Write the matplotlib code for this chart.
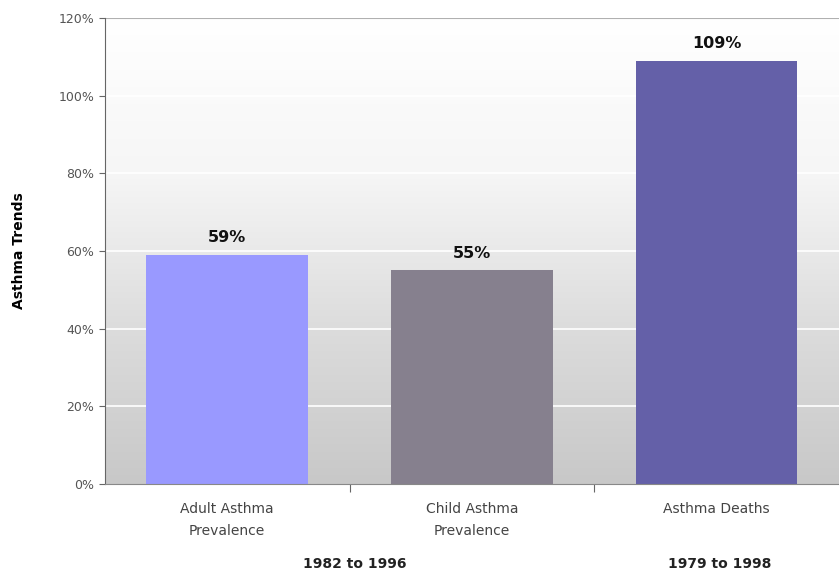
from matplotlib import pyplot as plt
import numpy as np

# Values
categories = ['Adult Asthma\nPrevalence', 'Child Asthma\nPrevalence', 'Asthma Deaths']
values = [59, 55, 109]
labels = ['59%', '55%', '109%']
colors = ['#9999ff', '#86808e', '#6460a8']
ticks = [0, 20, 40, 60, 80, 100, 120]
periods = ['1982 to 1996', '1979 to 1998']

fig = plt.figure(figsize=[8.39, 5.73], dpi=100)
ax = fig.add_axes([0.125, 0.155, 0.875, 0.814])

# Gradient backdrop: white at top to grey at the bottom
grad = np.linspace(0, 1, 256).reshape(-1, 1)
ax.imshow(grad, extent=[-0.5, 2.5, 0, 120], aspect='auto', origin='upper',
          cmap=plt.matplotlib.colors.LinearSegmentedColormap.from_list(
              'bg', ['#ffffff', '#f6f6f6', '#dcdcdc', '#c8c8c8']),
          zorder=0)

for t in ticks[1:-1]:
    ax.axhline(t, color='white', lw=1.2, zorder=1)
ax.axhline(120, color='#b0b0b0', lw=1.5, zorder=1)

x = np.arange(len(values))
ax.bar(x, values, width=0.66, color=colors, zorder=2)

for xi, v, lab in zip(x, values, labels):
    ax.text(xi, v + 2.5, lab, ha='center', va='bottom', fontsize=11.5,
            fontweight='bold', color='#111111')

ax.set_xlim(-0.5, 2.5)
ax.set_ylim(0, 120)
ax.set_yticks(ticks)
ax.set_yticklabels([f'{t}%' for t in ticks], color='#555555', fontsize=9)
ax.set_xticks([0.5, 1.5])
ax.set_xticklabels([])
ax.tick_params(axis='x', length=6, color='#666666')
ax.tick_params(axis='y', length=4, color='#666666')

for xi, c in zip(x, categories):
    ax.text(xi, -4.7, c, ha='center', va='top', fontsize=10, color='#444444',
            linespacing=1.7)

fig.text(355 / 839, 0.004, periods[0], ha='center', va='bottom',
         fontsize=10, fontweight='bold', color='#222222')
fig.text(720 / 839, 0.004, periods[1], ha='center', va='bottom',
         fontsize=10, fontweight='bold', color='#222222')

ax.set_ylabel('Asthma Trends', fontsize=10, fontweight='bold')
ax.yaxis.set_label_coords(-0.108, 0.5)

for side in ['top', 'right']:
    ax.spines[side].set_visible(False)
ax.spines['left'].set_color('#666666')
ax.spines['bottom'].set_color('#888888')

fig.savefig('out.png', dpi=100)
